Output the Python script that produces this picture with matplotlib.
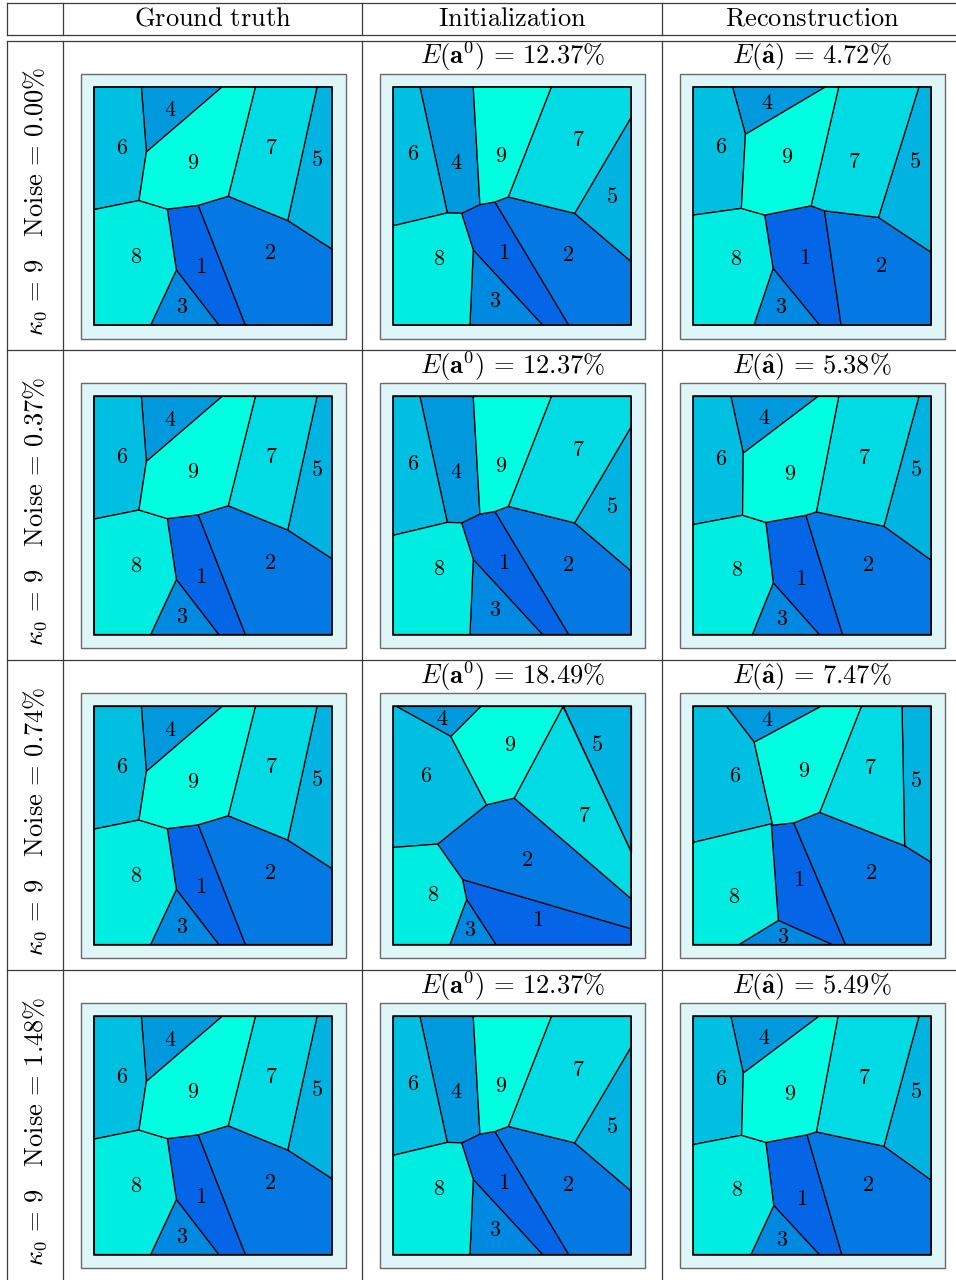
import numpy as np
import matplotlib
matplotlib.use("Agg")
import matplotlib.pyplot as plt
from matplotlib.patches import Polygon, Rectangle

plt.rcParams['mathtext.fontset'] = 'cm'
plt.rcParams['font.family'] = ['DejaVu Serif']

# region colours, cell 1 .. 9
region_colors = ['#0466e6', '#0479e3', '#0089e0', '#0099dd', '#00b3e1',
                 '#00c0e1', '#00dbe4', '#00ede1', '#00ffe1']

# square corners (0..100, y pointing down)
corners = {'a': (0, 0), 'b': (100, 0), 'c': (100, 100), 'd': (0, 100)}

# ground truth partition
gt_vertices = {'A': (19.9, 0), 'B': (22.0, 27.3), 'C': (53.8, 0), 'D': (67.8, 0),
               'E': (93.7, 0), 'F': (56.4, 45.9), 'G': (18.9, 47.7), 'H': (0, 51.5),
               'I': (30.8, 51.3), 'J': (43.8, 49.7), 'K': (81.4, 56.1), 'L': (100, 68.1),
               'M': (34.6, 76.9), 'N': (23.8, 100), 'O': (52.4, 100), 'P': (63.6, 100)}
gt_cells = {1: 'IJPOM', 2: 'JFKLcP', 3: 'MON', 4: 'ACB', 5: 'EbLK',
            6: 'aABGH', 7: 'DEKF', 8: 'HGIMNd', 9: 'BCDFJIG'}
# seed (label) points, cell 1 .. 9
gt_seeds = [(44.9, 75.8), (74.1, 69.9), (36.8, 92.6), (31.9, 9.8), (93.7, 30.8),
            (11.9, 25.5), (74.4, 25.5), (17.8, 71.3), (41.7, 31.9)]

# initialization used in rows 1, 2, 4
init_a_vertices = {'A': (11.2, 0), 'B': (33.6, 0), 'C': (66.4, 0), 'D': (100, 12.6),
                   'E': (22.7, 52.9), 'F': (28.7, 53.1), 'G': (36.4, 49.4), 'H': (42.7, 48.3),
                   'I': (48.3, 46.2), 'J': (76.2, 53.1), 'K': (100, 73.4), 'L': (0, 58.3),
                   'M': (33.6, 68.5), 'N': (32.2, 100), 'O': (62.7, 100), 'P': (73.7, 100)}
init_a_cells = {1: 'FGHPOM', 2: 'HIJKcP', 3: 'MON', 4: 'ABGFE', 5: 'DKJ',
                6: 'aAEL', 7: 'CbDJI', 8: 'LEFMNd', 9: 'BCIHG'}
init_a_seeds = [(46.2, 69.9), (73.4, 70.6), (42.7, 89.8), (26.3, 31.9), (91.9, 46.4),
                (8.1, 28.3), (77.9, 22.4), (19.3, 72.4), (45.2, 29.1)]

# initialization used in row 3
init_b_vertices = {'A': (1.4, 0), 'B': (36.8, 0), 'C': (71.3, 0), 'D': (24.2, 12.6),
                   'E': (39.2, 41.3), 'F': (50.8, 38.5), 'G': (100, 61.3), 'H': (100, 80.8),
                   'I': (100, 93.4), 'J': (18.6, 57.8), 'K': (0, 59.2), 'L': (29.1, 72.7),
                   'M': (30.8, 81.1), 'N': (23.8, 100), 'O': (43.1, 100)}
init_b_cells = {1: 'LIcOM', 2: 'EFHILJ', 3: 'MON', 4: 'ABD', 5: 'CbG',
                6: 'aADEJK', 7: 'CGHF', 8: 'KJLMNd', 9: 'BCFED'}
init_b_seeds = [(60.6, 89.5), (56.2, 64.3), (32.4, 94.0), (20.7, 5.3), (85.6, 16.1),
                (13.7, 29.1), (80.4, 45.9), (16.8, 79.0), (49.0, 16.1)]

# reconstructions
recon_1_vertices = {'A': (16.5, 0), 'B': (55.5, 0), 'C': (61.1, 0), 'D': (94.8, 0),
                    'E': (21.9, 19.9), 'F': (20.2, 51.0), 'G': (0, 53.8), 'H': (30.0, 53.8),
                    'I': (49.5, 49.9), 'J': (55.1, 52.0), 'K': (77.8, 54.8), 'L': (100, 69.5),
                    'M': (33.5, 76.2), 'N': (25.5, 100), 'O': (53.0, 100), 'P': (62.1, 100)}
recon_1_cells = {1: 'HIJPOM', 2: 'JKLcP', 3: 'MON', 4: 'ABE', 5: 'DbLK',
                 6: 'aAEFG', 7: 'CDKJI', 8: 'GFHMNd', 9: 'EBCIHF'}
recon_1_seeds = [(46.7, 72.0), (78.8, 75.2), (37.0, 92.3), (31.1, 6.7), (93.0, 31.5),
                 (11.6, 25.2), (67.6, 31.5), (17.9, 72.4), (39.5, 29.4)]

recon_2_vertices = {'A': (15.8, 0), 'B': (52.4, 0), 'C': (61.1, 0), 'D': (94.8, 0),
                    'E': (21.0, 23.8), 'F': (20.7, 49.9), 'G': (0, 53.8), 'H': (30.5, 52.9),
                    'I': (47.3, 49.9), 'J': (51.7, 48.5), 'K': (80.1, 54.5), 'L': (100, 68.8),
                    'M': (33.6, 78.3), 'N': (24.8, 100), 'O': (52.9, 100), 'P': (62.7, 100)}
recon_2_seeds = [(45.2, 76.5), (73.4, 70.6), (37.1, 93.4), (29.8, 9.1), (93.7, 31.0),
                 (11.5, 26.3), (71.7, 25.9), (18.2, 73.0), (40.6, 32.4)]
recon_3_vertices = {'A': (14.0, 0), 'B': (53.6, 0), 'C': (70.6, 0), 'D': (87.7, 0),
                    'E': (25.6, 15.0), 'F': (33.2, 49.2), 'G': (0, 57.1), 'H': (32.8, 49.9),
                    'I': (42.2, 48.9), 'J': (53.1, 44.5), 'K': (88.8, 58.5), 'L': (100, 65.5),
                    'M': (35.7, 89.9), 'N': (19.2, 100), 'O': (58.3, 100), 'P': (63.9, 100)}
recon_3_seeds = [(44.1, 73.0), (74.5, 69.9), (37.8, 96.8), (31.2, 5.6), (93.7, 31.5),
                 (17.5, 29.1), (74.5, 25.9), (17.2, 80.0), (46.4, 26.9)]
recon_4_vertices = {'A': (15.8, 0), 'B': (52.7, 0), 'C': (60.8, 0), 'D': (94.8, 0),
                    'E': (21.0, 23.8), 'F': (20.3, 49.9), 'G': (0, 53.8), 'H': (30.5, 52.9),
                    'I': (47.8, 49.7), 'J': (51.7, 48.5), 'K': (80.1, 54.5), 'L': (100, 68.8),
                    'M': (33.8, 79.4), 'N': (24.2, 100), 'O': (52.9, 100), 'P': (62.4, 100)}
recon_4_seeds = [(45.5, 76.6), (73.4, 70.6), (37.1, 93.7), (29.8, 9.1), (93.7, 31.9),
                 (11.5, 26.3), (71.7, 25.9), (18.2, 73.0), (40.6, 32.4)]
recon_cells = {1: 'HIPOM', 2: 'IJKLcP', 3: 'MON', 4: 'ABE', 5: 'DbLK',
               6: 'aAEFG', 7: 'CDKJ', 8: 'GFHMNd', 9: 'EBCJIHF'}

column_titles = ['Ground truth', 'Initialization', 'Reconstruction']
kappa0 = 9
noise_levels = ['0.00', '0.37', '0.74', '1.48']
init_errors = ['12.37', '12.37', '18.49', '12.37']
recon_errors = ['4.72', '5.38', '7.47', '5.49']

gt_part = (gt_vertices, gt_cells, gt_seeds)
init_a = (init_a_vertices, init_a_cells, init_a_seeds)
init_b = (init_b_vertices, init_b_cells, init_b_seeds)
init_rows = [init_a, init_a, init_b, init_a]
recon_rows = [(recon_1_vertices, recon_1_cells, recon_1_seeds),
              (recon_2_vertices, recon_cells, recon_2_seeds),
              (recon_3_vertices, recon_cells, recon_3_seeds),
              (recon_4_vertices, recon_cells, recon_4_seeds)]


def draw_partition(fig, rect, vertices, cells, seeds):
    ax = fig.add_axes(rect)
    m = 5.67
    ax.set_xlim(-m, 100 + m)
    ax.set_ylim(100 + m, -m)
    ax.axis('off')
    ax.add_patch(Rectangle((-m, -m), 100 + 2 * m, 100 + 2 * m, facecolor='#dff6f9',
                           edgecolor='#6a6a6a', lw=1.0, clip_on=False))
    pts_all = dict(corners)
    pts_all.update(vertices)
    for k, names in cells.items():
        pts = [pts_all[n] for n in names]
        ax.add_patch(Polygon(pts, closed=True, facecolor=region_colors[k - 1],
                             edgecolor='black', lw=0.9, joinstyle='miter'))
        sx, sy = seeds[k - 1]
        ax.text(sx, sy, r'$%d$' % k, ha='center', va='center', fontsize=16)
    ax.add_patch(Rectangle((0, 0), 100, 100, facecolor='none', edgecolor='black', lw=1.1))
    return ax


W, H = 956, 1280
fig = plt.figure(figsize=(W / 100, H / 100), dpi=100)
base = fig.add_axes([0, 0, 1, 1])
base.set_xlim(0, W)
base.set_ylim(H, 0)
base.axis('off')

line_kw = dict(color='#3a3a3a', lw=0.9)
col_lines = [7.3, 62.7, 362, 662]
col_left = [62.7, 362, 662]
row_top = [40.5, 350, 660, 970]

for y in [2.5, 34.5, 40.5] + row_top[1:]:
    base.plot([7.3, W], [y, y], **line_kw)
for x in col_lines:
    base.plot([x, x], [2.5, 34.5], **line_kw)
    base.plot([x, x], [40.5, H], **line_kw)

for j, title in enumerate(column_titles):
    base.text(col_left[j] + 150, 18, r'$\mathrm{%s}$' % title.replace(' ', r'\ '),
              ha='center', va='center', fontsize=19)

for i in range(4):
    top = row_top[i]
    base.text(35, top + 161,
              r'$\kappa_0 \,=\, %d\quad\mathrm{Noise} \,=\, %s\%%$' % (kappa0, noise_levels[i]),
              ha='center', va='center', rotation=90, fontsize=19)
    base.text(col_left[1] + 150, top + 16, r'$E(\mathbf{a}^0) \,=\, %s\%%$' % init_errors[i],
              ha='center', va='center', fontsize=19)
    base.text(col_left[2] + 150, top + 16, r'$E(\hat{\mathbf{a}}) \,=\, %s\%%$' % recon_errors[i],
              ha='center', va='center', fontsize=19)
    parts = [gt_part, init_rows[i], recon_rows[i]]
    for j, (verts, cells, seeds) in enumerate(parts):
        fx = col_left[j] + 17.8
        fy = top + 33
        rect = [fx / W, 1 - (fy + 265) / H, 265 / W, 265 / H]
        draw_partition(fig, rect, verts, cells, seeds)

fig.savefig('out.png', dpi=100)
